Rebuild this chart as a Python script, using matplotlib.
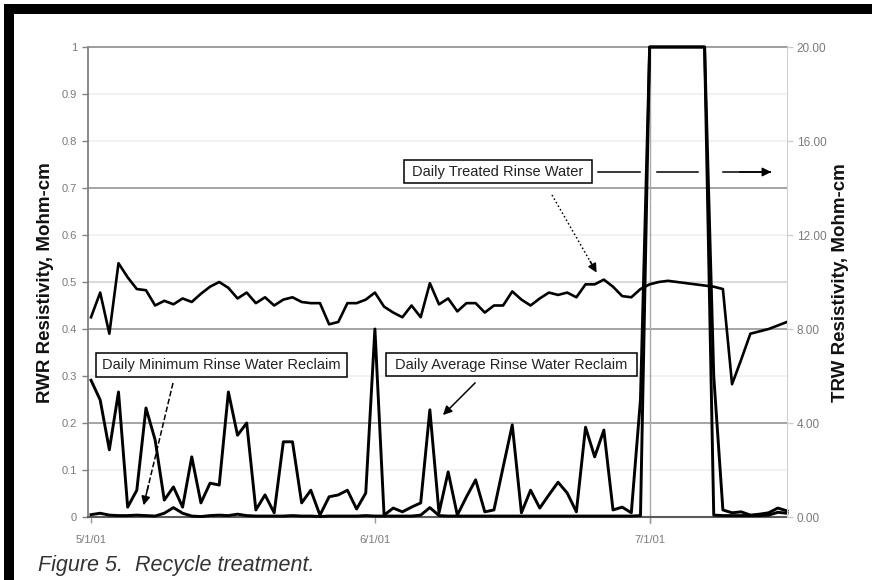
import numpy as np
import matplotlib
matplotlib.use('Agg')
import matplotlib.pyplot as plt
from matplotlib.patches import Rectangle
from matplotlib.lines import Line2D

plt.rcParams['font.family'] = ['Liberation Sans', 'DejaVu Sans']

# daily readings, day 0 = 5/1/01
avg_rwr = [0.291, 0.249, 0.143, 0.266, 0.021, 0.057, 0.232, 0.164, 0.036, 0.064,
           0.021, 0.128, 0.030, 0.072, 0.068, 0.266, 0.174, 0.200, 0.015, 0.047,
           0.009, 0.160, 0.160, 0.030, 0.057, 0.004, 0.043, 0.047, 0.057, 0.017,
           0.051, 0.400, 0.004, 0.019, 0.011, 0.021, 0.030, 0.228, 0.009, 0.096,
           0.004, 0.043, 0.079, 0.011, 0.015, 0.106, 0.196, 0.009, 0.057, 0.019,
           0.047, 0.074, 0.051, 0.011, 0.191, 0.128, 0.185, 0.015, 0.021, 0.009,
           0.250, 1.0, 1.0, 1.0, 1.0, 1.0, 1.0, 1.0, 0.300, 0.015,
           0.009, 0.011, 0.004, 0.006, 0.009, 0.019, 0.013]
min_rwr = [0.005, 0.008, 0.004, 0.003, 0.003, 0.004, 0.003, 0.002, 0.008, 0.020,
           0.008, 0.002, 0.001, 0.003, 0.004, 0.003, 0.006, 0.003, 0.002, 0.002,
           0.002, 0.002, 0.003, 0.002, 0.002, 0.001, 0.002, 0.002, 0.002, 0.002,
           0.003, 0.002, 0.002, 0.002, 0.002, 0.002, 0.004, 0.020, 0.003, 0.002,
           0.002, 0.002, 0.002, 0.002, 0.002, 0.002, 0.002, 0.002, 0.002, 0.002,
           0.002, 0.002, 0.002, 0.002, 0.002, 0.002, 0.002, 0.002, 0.002, 0.002,
           0.003, 1.0, 1.0, 1.0, 1.0, 1.0, 1.0, 1.0, 0.004, 0.003,
           0.003, 0.003, 0.003, 0.003, 0.004, 0.010, 0.008]
trw = [8.5, 9.55, 7.8, 10.8, 10.2, 9.7, 9.65, 9.0, 9.2, 9.05,
       9.3, 9.15, 9.5, 9.8, 10.0, 9.75, 9.3, 9.55, 9.1, 9.35,
       9.0, 9.25, 9.35, 9.15, 9.1, 9.1, 8.2, 8.3, 9.1, 9.1,
       9.25, 9.55, 8.95, 8.7, 8.5, 9.0, 8.5, 9.95, 9.05, 9.3,
       8.75, 9.1, 9.1, 8.7, 9.0, 9.0, 9.6, 9.25, 9.0, 9.3,
       9.55, 9.45, 9.55, 9.35, 9.9, 9.9, 10.1, 9.8, 9.4, 9.35,
       9.7, 9.9, 10.0, 10.05, 10.0, 9.95, 9.9, 9.85, 9.8, 9.7,
       5.65, 6.7, 7.8, 7.9, 8.0, 8.15, 8.3]
days = np.arange(len(trw))

tick_days = [0, 31, 61]
tick_dates = ['5/1/01', '6/1/01', '7/1/01']
rwr_ticks = [0, 0.1, 0.2, 0.3, 0.4, 0.5, 0.6, 0.7, 0.8, 0.9, 1]
rwr_labels = ['0', '0.1', '0.2', '0.3', '0.4', '0.5', '0.6', '0.7', '0.8', '0.9', '1']
trw_ticks = [0, 4, 8, 12, 16, 20]
trw_labels = ['0.00', '4.00', '8.00', '12.00', '16.00', '20.00']

W, H = 872, 580
fig = plt.figure(figsize=(W / 100, H / 100), dpi=100)


def px(x, y):
    # pixel position from top-left -> figure fraction
    return x / W, 1 - y / H


ax = fig.add_axes([88 / W, 1 - 517 / H, 699 / W, 470 / H])
ax2 = ax.twinx()

# grid lines, uneven shades like the scanned original
dark = [0.2, 0.4, 0.7]
for lev in rwr_ticks[1:-1]:
    if lev in dark:
        c = '#8c8c8c'
    elif lev == 0.5:
        c = '#cfcfcf'
    else:
        c = '#eeeeee'
    ax.axhline(lev, color=c, lw=1.1, zorder=0)
ax.axvline(61, ymin=-0.012, ymax=1, color='#a8a8a8', lw=1, clip_on=False, zorder=0)

ax.plot(days, avg_rwr, color='black', lw=2.1, clip_on=False, zorder=3)
ax.plot(days, min_rwr, color='black', lw=2.1, clip_on=False, zorder=3)
ax2.plot(days, trw, color='black', lw=1.9, zorder=3)

ax.set_xlim(-0.33, 76)
ax.set_ylim(0, 1)
ax2.set_ylim(0, 20)

ax.set_xticks(tick_days)
ax.set_xticklabels(tick_dates)
ax.set_yticks(rwr_ticks)
ax.set_yticklabels(rwr_labels)
ax2.set_yticks(trw_ticks)
ax2.set_yticklabels(trw_labels)

ax.tick_params(axis='y', length=4, width=1, color='#808080', labelcolor='#7a7a7a',
               labelsize=8, pad=4)
ax.tick_params(axis='x', length=4, width=1, color='#999999', labelcolor='#7a7a7a',
               labelsize=8, pad=9)
ax2.tick_params(axis='y', length=4, width=1, color='#cccccc', labelcolor='#7a7a7a',
                labelsize=8.5, pad=3)

for s in ['left', 'bottom', 'top', 'right']:
    ax2.spines[s].set_visible(False)
ax2.spines['right'].set_visible(True)
ax2.spines['right'].set_color('#d0d0d0')
ax.spines['right'].set_visible(False)
ax.spines['left'].set_color('#808080')
ax.spines['left'].set_linewidth(1.3)
ax.spines['bottom'].set_color('#5a5a5a')
ax.spines['bottom'].set_linewidth(1.5)
ax.spines['top'].set_color('#8c8c8c')
ax.spines['top'].set_linewidth(1.2)

# axis titles
fig.text(*px(46, 283), 'RWR Resistivity, Mohm-cm', rotation=90, ha='center', va='center',
         fontsize=13.5, fontweight='bold', color='#111111')
fig.text(*px(840, 283), 'TRW Resistivity, Mohm-cm', rotation=90, ha='center', va='center',
         fontsize=13.5, fontweight='bold', color='#111111')


def label_box(x0, y0, x1, y1, text):
    r = Rectangle(px(x0, y1), (x1 - x0) / W, (y1 - y0) / H, transform=fig.transFigure,
                  facecolor='white', edgecolor='black', lw=1.1, zorder=6)
    fig.add_artist(r)
    fig.text(*px((x0 + x1) / 2, (y0 + y1) / 2 + 0.5), text, ha='center', va='center',
             fontsize=10.5, color='#222222', zorder=7)


def arrow(x0, y0, x1, y1, ls='-'):
    xa, ya = px(x0, y0)
    xb, yb = px(x1, y1)
    fig.add_artist(Line2D([xa, xa + 0.88 * (xb - xa)], [ya, ya + 0.88 * (yb - ya)],
                          transform=fig.transFigure, color='black', lw=1.1, ls=ls, zorder=6))
    fig.add_artist(matplotlib.patches.FancyArrowPatch(
        (xa + 0.8 * (xb - xa), ya + 0.8 * (yb - ya)), (xb, yb), transform=fig.transFigure,
        arrowstyle='-|>', mutation_scale=13, color='black', lw=1.1, zorder=6))


label_box(404, 160, 592, 183, 'Daily Treated Rinse Water')
label_box(96, 353, 347, 377, 'Daily Minimum Rinse Water Reclaim')
label_box(386, 353, 637, 376, 'Daily Average Rinse Water Reclaim')

# long arrow toward the right axis, broken in three pieces
for a, b in [(598, 640), (657, 698), (723, 762)]:
    xa, ya = px(a, 172)
    xb, _ = px(b, 172)
    fig.add_artist(Line2D([xa, xb], [ya, ya], transform=fig.transFigure,
                          color='black', lw=1.1, zorder=6))
arrow(740, 172, 774, 172)

arrow(552, 195, 598, 275, ls=':')
arrow(173, 383, 143, 508, ls='--')
arrow(475, 383, 441, 417)

# black frame remnants of the scan
fig.add_artist(Rectangle(px(4, 14), (W - 4) / W, 10 / H, transform=fig.transFigure,
                         facecolor='black', edgecolor='none', zorder=8))
fig.add_artist(Rectangle(px(4, H), 10 / W, (H - 4) / H, transform=fig.transFigure,
                         facecolor='black', edgecolor='none', zorder=8))

fig.text(*px(38, 565), 'Figure 5.  Recycle treatment.', style='italic', fontsize=15.5,
         color='#333333', ha='left', va='center')

fig.savefig('out.png', dpi=100)
